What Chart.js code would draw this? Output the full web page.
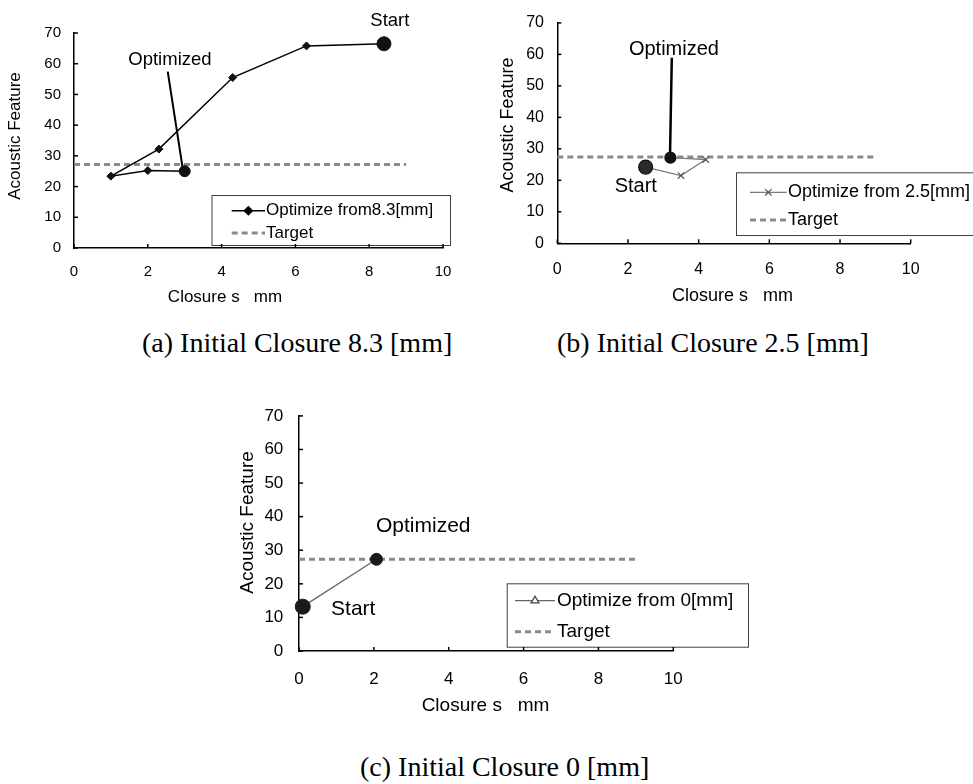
<!DOCTYPE html>
<html>
<head>
<meta charset="utf-8">
<script src="https://cdn.jsdelivr.net/npm/chart.js@4.4.0/dist/chart.umd.min.js"></script>
<style>
  html, body { margin: 0; padding: 0; background: #fff; }
  #page { position: relative; width: 973px; height: 784px; overflow: hidden; background: #fff; }
  canvas { position: absolute; }
  .caption {
    position: absolute;
    font-family: "Liberation Serif", "Times New Roman", serif;
    font-size: 28px;
    line-height: 28px;
    white-space: nowrap;
    color: #000;
  }
</style>
</head>
<body>
<div id="page">
  <canvas id="chartA" width="470" height="320" style="left:0;top:0"></canvas>
  <canvas id="chartB" width="503" height="320" style="left:470px;top:0"></canvas>
  <canvas id="chartC" width="520" height="340" style="left:230px;top:390px"></canvas>
  <div class="caption" style="left:142px;top:329px">(a) Initial Closure 8.3 [mm]</div>
  <div class="caption" style="left:557px;top:329px">(b) Initial Closure 2.5 [mm]</div>
  <div class="caption" style="left:360px;top:753px">(c) Initial Closure 0 [mm]</div>
</div>
<script>
const FONT = '"Liberation Sans", Arial, Helvetica, sans-serif';

// axis ticks shared by all three panels
const closureTicks = [0, 2, 4, 6, 8, 10];
const featureTicks = [0, 10, 20, 30, 40, 50, 60, 70];
const targetSpan = [0, 9];

// (a) optimize from 8.3 mm
const closureA = [8.4, 6.3, 4.3, 2.3, 1.0, 2.0, 3.0];
const featureA = [66.5, 65.8, 55.5, 32.2, 23.4, 25.2, 25.0];
const targetA = 27.2;
const calloutAx = [2.54, 2.94];
const calloutAy = [57.4, 26.4];

// (b) optimize from 2.5 mm
const closureB = [2.5, 3.5, 4.2, 3.2];
const featureB = [24.2, 21.5, 26.6, 27.2];
const targetB = 27.4;
const calloutBx = [3.24, 3.19];
const calloutBy = [58.9, 28.2];

// (c) optimize from 0 mm
const closureC = [0.1, 2.07];
const featureC = [13.2, 27.3];
const targetC = 27.3;

function xy(xs, ys) {
  return xs.map((v, i) => ({ x: v, y: ys[i] }));
}
function isEnd(c) {
  return c.dataIndex === 0 || c.dataIndex === c.dataset.data.length - 1;
}
function line(ctx, x1, y1, x2, y2) {
  ctx.beginPath();
  ctx.moveTo(x1, y1);
  ctx.lineTo(x2, y2);
  ctx.stroke();
}

// legend box, inside ticks, notes and axis titles
const decor = {
  id: 'decor',
  afterDraw(chart, args, o) {
    const { ctx, chartArea: ca } = chart;
    const sx = chart.scales.x, sy = chart.scales.y;
    ctx.save();

    const L = o.legend;
    const [bx1, by1, bx2, by2] = L.box;
    ctx.fillStyle = '#fff';
    ctx.fillRect(bx1, by1, bx2 - bx1, by2 - by1);
    ctx.strokeStyle = '#404040';
    ctx.lineWidth = 1;
    ctx.strokeRect(bx1 + 0.5, by1 + 0.5, bx2 - bx1, by2 - by1);
    ctx.font = L.size + 'px ' + FONT;
    ctx.textBaseline = 'middle';
    ctx.textAlign = 'left';
    L.rows.forEach((ry, i) => {
      const ds = chart.data.datasets[i];
      ctx.strokeStyle = ds.borderColor;
      ctx.lineWidth = ds.legendWidth || ds.borderWidth;
      ctx.setLineDash(ds.borderDash || []);
      line(ctx, L.line[0], ry, L.line[1], ry);
      ctx.setLineDash([]);
      if (ds.legendMarker) {
        const m = ds.legendMarker;
        ctx.fillStyle = m.fill;
        ctx.strokeStyle = m.stroke;
        Chart.helpers.drawPoint(ctx, { pointStyle: m.style, radius: m.r, borderWidth: 1, rotation: 0 },
          (L.line[0] + L.line[1]) / 2, ry);
      }
      ctx.fillStyle = '#000';
      ctx.fillText(ds.label, L.text, ry);
    });

    // tick marks point into the plot
    ctx.strokeStyle = '#000';
    ctx.lineWidth = 1.5;
    sx.ticks.forEach(t => {
      const px = sx.getPixelForValue(t.value);
      line(ctx, px, ca.bottom, px, ca.bottom - 4);
    });
    sy.ticks.forEach(t => {
      const py = sy.getPixelForValue(t.value);
      line(ctx, ca.left, py, ca.left + 4, py);
    });

    ctx.fillStyle = '#000';
    ctx.textAlign = 'center';
    ctx.font = o.noteSize + 'px ' + FONT;
    o.notes.forEach(n => {
      ctx.fillText(n.text, sx.getPixelForValue(n.x), sy.getPixelForValue(n.y));
    });

    ctx.font = o.titleSize + 'px ' + FONT;
    ctx.fillText('Closure s   mm', o.xTitleAt[0], o.xTitleAt[1]);
    ctx.translate(o.yTitleAt[0], o.yTitleAt[1]);
    ctx.rotate(-Math.PI / 2);
    ctx.fillText('Acoustic Feature', 0, 0);
    ctx.restore();
  }
};

function makeChart(id, cfg) {
  return new Chart(document.getElementById(id), {
    type: 'line',
    data: { datasets: cfg.datasets },
    options: {
      responsive: false,
      animation: false,
      layout: { padding: cfg.padding },
      plugins: {
        legend: { display: false },
        tooltip: { enabled: false },
        decor: cfg.decor
      },
      scales: {
        x: {
          type: 'linear',
          min: 0,
          max: 10,
          afterBuildTicks: s => { s.ticks = closureTicks.map(v => ({ value: v })); },
          afterFit: s => { s.height = cfg.xHeight; },
          grid: { display: false, drawTicks: false },
          border: { color: '#000', width: 1.5 },
          ticks: { color: '#000', padding: cfg.xPad, maxRotation: 0, font: { family: FONT, size: cfg.tick } }
        },
        y: {
          type: 'linear',
          min: 0,
          max: 70,
          afterBuildTicks: s => { s.ticks = featureTicks.map(v => ({ value: v })); },
          afterFit: s => { s.width = cfg.yWidth; },
          grid: { display: false, drawTicks: false },
          border: { color: '#000', width: 1.5 },
          ticks: { color: '#000', padding: cfg.yPad, font: { family: FONT, size: cfg.tick } }
        }
      }
    },
    plugins: [decor]
  });
}

function targetSet(level) {
  return {
    label: 'Target',
    data: xy(targetSpan, targetSpan.map(() => level)),
    borderColor: '#8a8a8a',
    borderWidth: 3,
    borderDash: [6, 4],
    pointRadius: 0,
    clip: false
  };
}
function calloutSet(xs, ys, w) {
  return {
    label: 'callout',
    data: xy(xs, ys),
    borderColor: '#000',
    borderWidth: w,
    pointRadius: 0,
    clip: false
  };
}

makeChart('chartA', {
  padding: { left: 0, top: 33, right: 27, bottom: 0 },
  xHeight: 72, yWidth: 74, xPad: 15, yPad: 13, tick: 15,
  datasets: [
    {
      label: 'Optimize from8.3[mm]',
      data: xy(closureA, featureA),
      borderColor: '#000',
      borderWidth: 1.5,
      pointStyle: c => isEnd(c) ? 'circle' : 'rectRot',
      pointRadius: c => c.dataIndex === 0 ? 7 : (isEnd(c) ? 5.5 : 4),
      pointBackgroundColor: '#111',
      pointBorderColor: '#111',
      pointBorderWidth: 1,
      legendMarker: { style: 'rectRot', r: 4, fill: '#000', stroke: '#000' },
      clip: false
    },
    targetSet(targetA),
    calloutSet(calloutAx, calloutAy, 2)
  ],
  decor: {
    legend: { box: [211.5, 195, 450, 245], rows: [210.7, 233], line: [231.7, 265], text: 266, size: 17 },
    notes: [{ text: 'Start', x: 8.56, y: 74.1 }, { text: 'Optimized', x: 2.6, y: 61.3 }],
    noteSize: 18.5,
    titleSize: 17,
    xTitleAt: [225, 297],
    yTitleAt: [15.5, 136]
  }
});

makeChart('chartB', {
  padding: { left: 0, top: 15.7, right: 62.3, bottom: 0 },
  xHeight: 76.7, yWidth: 87.3, xPad: 17, yPad: 13.3, tick: 16,
  datasets: [
    {
      label: 'Optimize from 2.5[mm]',
      data: xy(closureB, featureB),
      borderColor: '#7a7a7a',
      borderWidth: 1.3,
      pointStyle: c => isEnd(c) ? 'circle' : 'crossRot',
      pointRadius: c => c.dataIndex === 0 ? 7 : (isEnd(c) ? 5.5 : 4.5),
      pointBackgroundColor: c => c.dataIndex === 0 ? '#2a2a2a' : '#111',
      pointBorderColor: c => isEnd(c) ? '#111' : '#555',
      pointBorderWidth: 1.2,
      legendMarker: { style: 'crossRot', r: 4.5, fill: '#555', stroke: '#555' },
      clip: false
    },
    targetSet(targetB),
    calloutSet(calloutBx, calloutBy, 2.5)
  ],
  decor: {
    legend: { box: [266, 172.3, 510, 235], rows: [192.3, 220], line: [280, 316.7], text: 318, size: 18 },
    notes: [{ text: 'Optimized', x: 3.3, y: 61.5 }, { text: 'Start', x: 2.22, y: 17.9 }],
    noteSize: 20,
    titleSize: 18,
    xTitleAt: [262.5, 296],
    yTitleAt: [38.3, 125]
  }
});

makeChart('chartC', {
  padding: { left: 0, top: 16.7, right: 76.7, bottom: 0 },
  xHeight: 79, yWidth: 69, xPad: 18, yPad: 15.7, tick: 17,
  datasets: [
    {
      label: 'Optimize from 0[mm]',
      data: xy(closureC, featureC),
      borderColor: '#666',
      borderWidth: 1.3,
      pointStyle: c => isEnd(c) ? 'circle' : 'triangle',
      pointRadius: c => c.dataIndex === 0 ? 7.5 : 6,
      pointBackgroundColor: '#1a1a1a',
      pointBorderColor: '#1a1a1a',
      pointBorderWidth: 1,
      legendMarker: { style: 'triangle', r: 4.5, fill: '#fff', stroke: '#444' },
      clip: false
    },
    targetSet(targetC)
  ],
  decor: {
    legend: { box: [276.7, 193.3, 518, 256.7], rows: [210.7, 241.7], line: [285, 325], text: 327, size: 19 },
    notes: [{ text: 'Optimized', x: 3.32, y: 37.2 }, { text: 'Start', x: 1.45, y: 12.5 }],
    noteSize: 21,
    titleSize: 19,
    xTitleAt: [255.5, 316],
    yTitleAt: [17.5, 132.5]
  }
});
</script>
</body>
</html>
